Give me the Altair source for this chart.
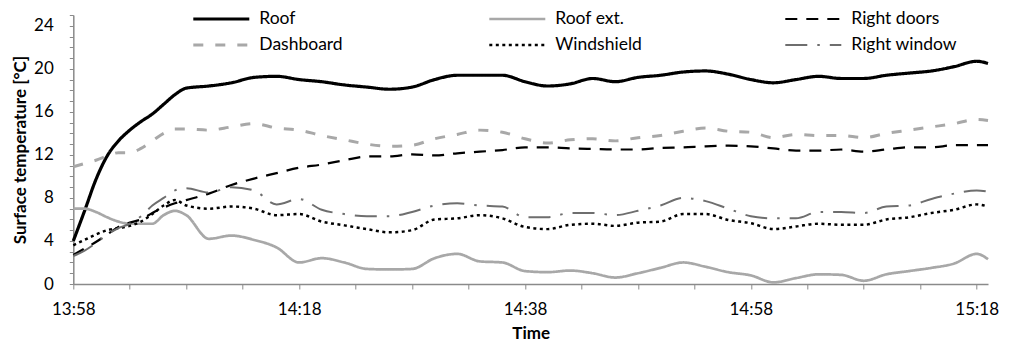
import json
import altair as alt
import pandas as pd

# minutes after 13:58
MINUTES = list(range(0, 11)) + list(range(12, 81, 2)) + [81]

ROOF = [4.0, 6.8, 9.7, 11.9, 13.3, 14.3, 15.1, 15.8, 16.7, 17.6, 18.2,
        18.4, 18.7, 19.2, 19.3, 19.0, 18.8, 18.5, 18.3, 18.1, 18.3, 19.0, 19.4, 19.4, 19.4, 18.8,
        18.4, 18.6, 19.1, 18.8, 19.2, 19.4, 19.7, 19.8, 19.5, 19.0, 18.7, 19.0, 19.3, 19.1, 19.1,
        19.4, 19.6, 19.8, 20.2, 20.7, 20.5]
ROOF_EXT = [7.0, 7.0, 6.7, 6.2, 5.8, 5.6, 5.6, 5.6, 6.4, 6.8, 6.4,
            4.2, 4.5, 4.1, 3.4, 2.0, 2.4, 2.0, 1.4, 1.35, 1.4, 2.4, 2.8, 2.1, 2.0, 1.2,
            1.1, 1.25, 1.0, 0.6, 1.0, 1.5, 2.0, 1.6, 1.1, 0.8, 0.15, 0.55, 0.9, 0.85, 0.3,
            0.9, 1.2, 1.5, 1.9, 2.8, 2.3]
RIGHT_DOORS = [2.7, 3.3, 3.9, 4.6, 5.3, 5.7, 6.0, 6.6, 7.1, 7.5, 7.8,
               8.4, 9.2, 9.8, 10.3, 10.8, 11.1, 11.5, 11.85, 11.85, 12.05, 11.95, 12.15, 12.3, 12.45, 12.7,
               12.7, 12.6, 12.55, 12.5, 12.5, 12.65, 12.7, 12.8, 12.85, 12.8, 12.6, 12.4, 12.4, 12.5, 12.3,
               12.5, 12.7, 12.7, 12.9, 12.9, 12.9]
DASHBOARD = [10.9, 11.2, 11.5, 11.9, 12.2, 12.2, 12.6, 13.3, 14.0, 14.4, 14.4,
             14.3, 14.6, 14.9, 14.5, 14.3, 13.8, 13.4, 13.0, 12.8, 12.9, 13.5, 13.9, 14.3, 14.1, 13.5,
             13.1, 13.4, 13.5, 13.3, 13.6, 13.8, 14.2, 14.5, 14.2, 14.1, 13.6, 13.9, 13.8, 13.8, 13.6,
             14.0, 14.3, 14.6, 14.9, 15.3, 15.2]
WINDSHIELD = [3.6, 4.1, 4.6, 5.0, 5.2, 5.4, 5.8, 6.5, 7.3, 7.8, 7.3,
              7.0, 7.2, 7.0, 6.4, 6.5, 5.8, 5.45, 5.1, 4.8, 5.0, 6.0, 6.1, 6.4, 6.1, 5.3,
              5.1, 5.5, 5.6, 5.4, 5.7, 5.8, 6.5, 6.5, 5.95, 5.65, 5.1, 5.35, 5.6, 5.5, 5.5,
              6.0, 6.2, 6.6, 6.9, 7.4, 7.2]
RIGHT_WINDOW = [2.6, 3.1, 3.8, 4.6, 5.2, 5.6, 6.3, 7.3, 8.0, 8.7, 8.9,
                8.5, 9.0, 8.7, 7.4, 7.9, 6.9, 6.5, 6.3, 6.3, 6.7, 7.3, 7.5, 7.3, 7.2, 6.2,
                6.2, 6.6, 6.6, 6.4, 6.8, 7.3, 8.0, 7.7, 7.0, 6.3, 6.1, 6.1, 6.7, 6.7, 6.6,
                7.2, 7.3, 7.9, 8.4, 8.7, 8.6]

# legend is filled column by column (2 rows x 3 columns)
SERIES = ["Roof", "Dashboard", "Roof ext.", "Windshield", "Right doors", "Right window"]
VALUES = [ROOF, DASHBOARD, ROOF_EXT, WINDSHIELD, RIGHT_DOORS, RIGHT_WINDOW]
COLORS = ["#000000", "#a8a8a8", "#a8a8a8", "#000000", "#000000", "#6e6e6e"]
DASHES = [[1, 0], [10, 12], [1, 0], [3, 3.5], [12, 9], [22, 10, 2.5, 10]]
WIDTHS = [3.2, 2, 1.5, 2.5, 3.5, 3]
X_TICK_LABELS = ["13:58", "14:18", "14:38", "14:58", "15:18"]

rows = []
for name, vals in zip(SERIES, VALUES):
    for t, v in zip(MINUTES, vals):
        rows.append({"t": t, "v": v, "series": name})
df = pd.DataFrame(rows)

FONT = "Lato"
legend = alt.Legend(
    title=None, orient="none", legendX=118, legendY=-5.5, columns=3,
    symbolType="stroke", symbolSize=3136, clipHeight=19, labelFont=FONT, labelFontSize=17.5,
    labelColor="#000000", columnPadding=122, rowPadding=7, gridAlign="all",
    padding=0, labelOffset=8,
)

x_expr = "datum.value % 20 == 0 ? " + json.dumps(X_TICK_LABELS) + "[datum.value / 20] : ''"

chart = alt.Chart(df).mark_line(interpolate="monotone", strokeCap="butt").encode(
    x=alt.X("t:Q", scale=alt.Scale(domain=[0, 81], nice=False, zero=False),
            axis=alt.Axis(values=list(range(0, 81, 5)), labelExpr=x_expr, title="Time",
                          tickSize=5, labelPadding=12, labelFontSize=17, titleFontSize=17,
                          titleFontWeight="bold", titlePadding=8, labelFlush=False)),
    y=alt.Y("v:Q", scale=alt.Scale(domain=[0, 25], nice=False),
            axis=alt.Axis(values=list(range(0, 26)),
                          labelExpr="datum.value % 4 == 0 ? datum.label : ''",
                          title="Surface temperature [°C]", tickSize=4, labelPadding=16,
                          labelFontSize=17, titleFontSize=17, titleFontWeight="bold",
                          titlePadding=4)),
    color=alt.Color("series:N", scale=alt.Scale(domain=SERIES, range=COLORS), legend=legend),
    strokeDash=alt.StrokeDash("series:N", scale=alt.Scale(domain=SERIES, range=DASHES), legend=legend),
    strokeWidth=alt.StrokeWidth("series:N", scale=alt.Scale(domain=SERIES, range=WIDTHS), legend=legend),
    order=alt.Order("t:Q"),
).properties(
    width=914.7, height=269,
    autosize=alt.AutoSizeParams(type="none"),
    padding={"left": 65.3, "top": 7, "right": 14, "bottom": 62},
).configure_view(stroke=None).configure_axis(
    grid=False, domainColor="#8a8a8a", tickColor="#8a8a8a", labelFont=FONT, titleFont=FONT,
    labelColor="#000000", titleColor="#000000", domainWidth=1.5,
)

chart.save("out.html", embed_options={"renderer": "svg", "actions": False})
